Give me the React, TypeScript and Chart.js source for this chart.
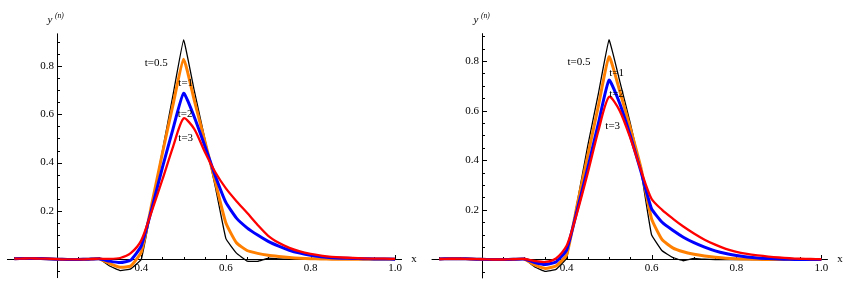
import { useEffect, useRef } from "react";
import { Chart, registerables } from "chart.js";

Chart.register(...registerables);

// ---- data ----
const xValues = [
  0.1, 0.125, 0.15, 0.175, 0.2, 0.225, 0.25, 0.275, 0.3, 0.325, 0.35, 0.375, 0.4,
  0.425, 0.45, 0.475, 0.5, 0.525, 0.55, 0.575, 0.6, 0.625, 0.65, 0.675, 0.7, 0.725,
  0.75, 0.775, 0.8, 0.825, 0.85, 0.875, 0.9, 0.925, 0.95, 0.975, 1.0,
];

const seriesLabels = ["t=0.5", "t=1", "t=2", "t=3"];

// left panel
const leftT05 = [
  0.002, 0.003, 0.003, 0.002, 0.0, -0.001, -0.001, 0.0, 0.002, -0.028, -0.047, -0.04, 0.0,
  0.22, 0.45, 0.68, 0.908, 0.7, 0.5, 0.3, 0.085, 0.025, -0.008, -0.009, 0.004, 0.001,
  0, 0, 0, 0, 0, 0, 0, 0, 0, 0, 0,
];
const leftT1 = [
  0.002, 0.003, 0.003, 0.002, 0.0, -0.001, -0.001, 0.0, 0.002, -0.018, -0.033, -0.028, 0.03,
  0.23, 0.44, 0.64, 0.828, 0.66, 0.49, 0.32, 0.15, 0.068, 0.036, 0.024, 0.016, 0.011,
  0.007, 0.004, 0.002, 0.001, 0, 0, 0, 0, 0, 0, 0,
];
const leftT2 = [
  0.002, 0.003, 0.003, 0.002, 0.0, -0.001, -0.001, 0.0, 0.002, -0.008, -0.014, -0.004, 0.055,
  0.21, 0.38, 0.54, 0.687, 0.59, 0.47, 0.345, 0.235, 0.17, 0.13, 0.1, 0.074, 0.054,
  0.037, 0.025, 0.016, 0.01, 0.006, 0.004, 0.003, 0.002, 0.001, 0.001, 0.0,
];
const leftT3 = [
  0.002, 0.003, 0.003, 0.002, 0.0, -0.001, -0.001, 0.0, 0.002, 0.001, 0.005, 0.025, 0.078,
  0.2, 0.33, 0.465, 0.583, 0.54, 0.445, 0.36, 0.293, 0.24, 0.192, 0.142, 0.097, 0.068,
  0.047, 0.032, 0.022, 0.015, 0.01, 0.007, 0.005, 0.003, 0.002, 0.002, 0.001,
];

// right panel
const rightT05 = [
  0.002, 0.003, 0.003, 0.002, 0.001, 0.0, 0.0, 0.001, 0.002, -0.03, -0.048, -0.04, 0.005,
  0.23, 0.46, 0.67, 0.885, 0.72, 0.55, 0.36, 0.1, 0.035, 0.008, -0.005, 0.004, 0.001,
  0, 0, 0, 0, 0, 0, 0, 0, 0, 0, 0,
];
const rightT1 = [
  0.002, 0.003, 0.003, 0.002, 0.001, 0.0, 0.0, 0.001, 0.002, -0.022, -0.036, -0.026, 0.018,
  0.22, 0.42, 0.62, 0.817, 0.68, 0.53, 0.37, 0.165, 0.08, 0.047, 0.031, 0.021, 0.014,
  0.009, 0.005, 0.003, 0.002, 0.001, 0, 0, 0, 0, 0, 0,
];
const rightT2 = [
  0.002, 0.003, 0.003, 0.002, 0.001, 0.0, 0.0, 0.001, 0.002, -0.012, -0.02, -0.01, 0.038,
  0.2, 0.37, 0.55, 0.723, 0.63, 0.5, 0.355, 0.205, 0.15, 0.118, 0.09, 0.068, 0.05,
  0.035, 0.024, 0.016, 0.01, 0.006, 0.004, 0.002, 0.001, 0, 0, 0,
];
const rightT3 = [
  0.002, 0.003, 0.003, 0.002, 0.001, 0.0, 0.0, 0.001, 0.002, -0.006, -0.01, 0.004, 0.055,
  0.19, 0.35, 0.52, 0.656, 0.6, 0.49, 0.36, 0.245, 0.2, 0.165, 0.133, 0.105, 0.08,
  0.06, 0.043, 0.031, 0.023, 0.017, 0.012, 0.008, 0.005, 0.003, 0.002, 0.001,
];

const xTickValues = [0.4, 0.6, 0.8, 1.0];
const xTickLabels = ["0.4", "0.6", "0.8", "1.0"];
const yTickValues = [0.2, 0.4, 0.6, 0.8];
const yTickLabels = ["0.2", "0.4", "0.6", "0.8"];

// ---- styling ----
const seriesColors = ["#000000", "#FF8000", "#0000FF", "#FF0000"];
const seriesWidths = [1.3, 3, 3, 2.3];
const seriesTension = [0.08, 0.15, 0.15, 0.25];
const FONT = '"Liberation Serif", "Times New Roman", serif';

type PanelCfg = {
  series: number[][];
  labelAt: [number, number][];
  yAxisTop: number;
  yAxisBottom: number;
  xAxisFrom: number;
  xAxisTo: number;
  padding: { left: number; right: number; top: number; bottom: number };
  yLabelDx: number;
};

const leftPanel: PanelCfg = {
  series: [leftT05, leftT1, leftT2, leftT3],
  labelAt: [
    [0.4353, 0.811],
    [0.505, 0.728],
    [0.5035, 0.6],
    [0.505, 0.5],
  ],
  yAxisTop: 0.935,
  yAxisBottom: -0.078,
  xAxisFrom: 0.0825,
  xAxisTo: 1.0163,
  padding: { left: 5.94, right: 21.44, top: 29.78, bottom: 4.65 },
  yLabelDx: -10,
};

const rightPanel: PanelCfg = {
  series: [rightT05, rightT1, rightT2, rightT3],
  labelAt: [
    [0.4292, 0.795],
    [0.518, 0.7505],
    [0.518, 0.667],
    [0.5086, 0.538],
  ],
  yAxisTop: 0.912,
  yAxisBottom: -0.076,
  xAxisFrom: 0.082,
  xAxisTo: 1.0155,
  padding: { left: 5.76, right: 21.21, top: 23.8, bottom: 3.69 },
  yLabelDx: -9,
};

const mathAxes = {
  id: "mathAxes",
  beforeDatasetsDraw(chart: any, _a: any, opts: any) {
    const { ctx } = chart;
    const xs = chart.scales.x;
    const ys = chart.scales.y;
    const ox = Math.round(xs.getPixelForValue(0.2)) + 0.5;
    const oy = Math.round(ys.getPixelForValue(0)) + 0.5;
    ctx.save();
    ctx.strokeStyle = "#000";
    ctx.fillStyle = "#000";
    ctx.lineWidth = 1;
    // axis lines
    ctx.beginPath();
    ctx.moveTo(xs.getPixelForValue(opts.xAxisFrom), oy);
    ctx.lineTo(xs.getPixelForValue(opts.xAxisTo), oy);
    ctx.moveTo(ox, ys.getPixelForValue(opts.yAxisBottom));
    ctx.lineTo(ox, ys.getPixelForValue(opts.yAxisTop));
    ctx.stroke();
    // x ticks (pointing up)
    ctx.beginPath();
    for (let k = 2; k <= 20; k++) {
      if (k === 4) continue;
      const px = Math.round(xs.getPixelForValue(k * 0.05)) + 0.5;
      const len = k % 4 === 0 ? 4.5 : 2.5;
      ctx.moveTo(px, oy);
      ctx.lineTo(px, oy - len);
    }
    // y ticks (pointing right)
    for (let k = -1; k <= 19; k++) {
      if (k === 0) continue;
      const v = k * 0.05;
      if (v > opts.yAxisTop || v < opts.yAxisBottom) continue;
      const py = Math.round(ys.getPixelForValue(v)) + 0.5;
      const len = k % 4 === 0 ? 4.5 : 2.5;
      ctx.moveTo(ox, py);
      ctx.lineTo(ox + len, py);
    }
    ctx.stroke();
    // tick labels
    ctx.font = `11px ${FONT}`;
    ctx.textAlign = "center";
    ctx.textBaseline = "middle";
    xTickValues.forEach((v, i) => {
      ctx.fillText(xTickLabels[i], xs.getPixelForValue(v), oy + 9);
    });
    ctx.textAlign = "right";
    yTickValues.forEach((v, i) => {
      ctx.fillText(yTickLabels[i], ox - 3.5, ys.getPixelForValue(v));
    });
    // axis labels
    ctx.textAlign = "left";
    ctx.textBaseline = "alphabetic";
    ctx.font = `italic 11px ${FONT}`;
    ctx.fillText("y", ox + opts.yLabelDx, 22.5);
    ctx.font = `italic 7.5px ${FONT}`;
    ctx.fillText("(n)", ox + opts.yLabelDx + 7.5, 17.5);
    ctx.font = `11px ${FONT}`;
    ctx.textAlign = "center";
    ctx.textBaseline = "middle";
    ctx.fillText("x", xs.getPixelForValue(opts.xAxisTo) + 12, oy);
    ctx.restore();
  },
  afterDatasetsDraw(chart: any, _a: any, opts: any) {
    const { ctx } = chart;
    const xs = chart.scales.x;
    const ys = chart.scales.y;
    ctx.save();
    ctx.fillStyle = "#000";
    ctx.font = `11px ${FONT}`;
    ctx.textAlign = "center";
    ctx.textBaseline = "middle";
    (opts.labelAt as [number, number][]).forEach(([x, y], i) => {
      ctx.fillText(seriesLabels[i], xs.getPixelForValue(x), ys.getPixelForValue(y));
    });
    ctx.restore();
  },
};

function Panel({ cfg, left, width }: { cfg: PanelCfg; left: number; width: number }) {
  const ref = useRef<HTMLCanvasElement>(null);
  useEffect(() => {
    const order = [3, 2, 1, 0]; // red drawn on top
    const chart = new Chart(ref.current as HTMLCanvasElement, {
      type: "line",
      data: {
        datasets: order.map((s) => ({
          label: seriesLabels[s],
          data: xValues.map((x, i) => ({ x, y: cfg.series[s][i] })),
          borderColor: seriesColors[s],
          borderWidth: seriesWidths[s],
          pointRadius: 0,
          tension: seriesTension[s],
          fill: false,
        })),
      },
      options: {
        animation: false,
        responsive: false,
        maintainAspectRatio: false,
        events: [],
        layout: { padding: cfg.padding },
        scales: {
          x: { type: "linear", min: 0.08, max: 1.02, display: false },
          y: { type: "linear", min: -0.1, max: 0.95, display: false },
        },
        plugins: {
          legend: { display: false },
          tooltip: { enabled: false },
          mathAxes: {
            yAxisTop: cfg.yAxisTop,
            yAxisBottom: cfg.yAxisBottom,
            xAxisFrom: cfg.xAxisFrom,
            xAxisTo: cfg.xAxisTo,
            labelAt: cfg.labelAt,
            yLabelDx: cfg.yLabelDx,
          },
        } as any,
      },
      plugins: [mathAxes as any],
    });
    return () => chart.destroy();
  }, [cfg]);
  return (
    <canvas
      ref={ref}
      width={width}
      height={288}
      style={{ position: "absolute", left, top: 0, width, height: 288 }}
    />
  );
}

export default function App() {
  return (
    <div style={{ position: "absolute", left: 0, top: 0, width: 851, height: 288, background: "#fff" }}>
      <Panel cfg={leftPanel} left={0} width={425} />
      <Panel cfg={rightPanel} left={425} width={426} />
    </div>
  );
}
